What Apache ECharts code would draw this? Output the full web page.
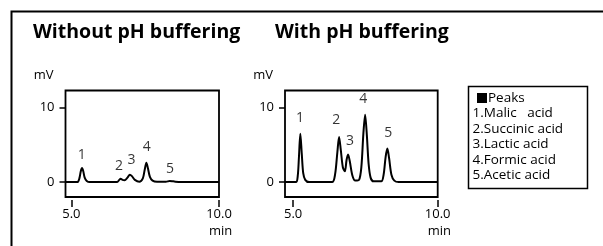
<!DOCTYPE html>
<html>
<head>
<meta charset="utf-8">
<script src="https://cdn.jsdelivr.net/npm/echarts@6/dist/echarts.min.js"></script>
<style>
  html, body { margin: 0; padding: 0; background: #fff; }
  #main { width: 603px; height: 246px; }
</style>
</head>
<body>
<div id="main"></div>
<script>
// chromatogram without pH buffering (time in min, signal in mV)
var timeA = [4.80, 5.20, 5.27, 5.32, 5.36, 5.40, 5.45, 5.52, 5.62, 6.55, 6.62, 6.67, 6.73, 6.80, 6.90, 6.98, 7.05, 7.15, 7.30, 7.42, 7.48, 7.54, 7.59, 7.66, 7.75, 7.90, 8.20, 8.33, 8.45, 8.70, 10.0]
var signalA = [0, 0, 0.5, 1.5, 1.9, 1.5, 0.6, 0.15, 0, 0, 0.3, 0.45, 0.3, 0.25, 0.6, 1.0, 0.8, 0.3, 0.05, 0.5, 1.6, 2.6, 1.9, 0.7, 0.2, 0.05, 0.05, 0.15, 0.1, 0, 0]
// chromatogram with pH buffering
var timeB = [4.72, 5.10, 5.16, 5.20, 5.25, 5.30, 5.35, 5.42, 5.55, 6.35, 6.45, 6.53, 6.59, 6.65, 6.72, 6.79, 6.85, 6.90, 6.96, 7.05, 7.15, 7.28, 7.36, 7.43, 7.49, 7.55, 7.61, 7.68, 7.78, 8.05, 8.13, 8.20, 8.26, 8.32, 8.40, 8.50, 8.65, 10.0]
var signalB = [0, 0, 0.8, 3.2, 6.5, 3.8, 1.2, 0.3, 0, 0, 1.0, 4.0, 6.05, 4.3, 2.0, 1.45, 3.0, 3.7, 2.8, 0.9, 0.2, 0.3, 2.0, 6.5, 9.05, 6.3, 2.5, 0.6, 0.1, 0.1, 1.0, 3.4, 4.5, 3.2, 1.0, 0.2, 0, 0]

// peak number labels
var peakIds = ['1', '2', '3', '4', '5']
var labelTimeA = [5.35, 6.61, 7.04, 7.55, 8.34]
var labelSignalA = [3.7, 2.2, 2.9, 4.7, 1.8]
var labelTimeB = [5.24, 6.49, 6.97, 7.43, 8.29]
var labelSignalB = [8.65, 8.4, 5.5, 11.2, 6.6]

var panelTitles = ['Without pH buffering', 'With pH buffering']
var xTicks = [5, 10]
var xTickText = ['5.0', '10.0\n min']
var yTicks = [0, 10]
var yTickText = ['0', '10']
var legendTitle = 'Peaks'
var peakNames = ['1.Malic   acid', '2.Succinic acid', '3.Lactic acid', '4.Formic acid', '5.Acetic acid']

var FONT = 'Open Sans'
var INK = '#000'

function pairs(xs, ys) {
  var out = []
  for (var i = 0; i < xs.length; i++) {
    out.push([xs[i], ys[i]])
  }
  return out
}

function labelData(xs, ys) {
  var out = []
  for (var i = 0; i < xs.length; i++) {
    out.push({ name: peakIds[i], value: [xs[i], ys[i]] })
  }
  return out
}

function xAxisFor(idx, min) {
  return {
    type: 'value', gridIndex: idx, min: min, max: 10, position: 'bottom', offset: 3,
    // onZero off, otherwise the ticks jump up to the baseline
    axisLine: { show: true, onZero: false, lineStyle: { color: 'rgba(0,0,0,0)', width: 0 } },
    splitLine: { show: false },
    axisTick: { show: true, inside: false, customValues: xTicks, length: 7, lineStyle: { color: INK, width: 1.5 } },
    axisLabel: {
      show: true, customValues: xTicks, margin: 6, color: INK, fontFamily: FONT, fontSize: 13, lineHeight: 17,
      formatter: function (v) { return xTickText[xTicks.indexOf(v)] }
    }
  }
}

function yAxisFor(idx) {
  return {
    type: 'value', gridIndex: idx, min: -2, max: 12.3,
    name: 'mV', nameLocation: 'end', nameGap: 9,
    nameTextStyle: { color: INK, fontFamily: FONT, fontSize: 13, align: 'right', padding: [0, 12, 0, 0] },
    axisLine: { show: true, onZero: false, lineStyle: { color: 'rgba(0,0,0,0)', width: 0 } },
    splitLine: { show: false },
    axisTick: { show: true, inside: false, customValues: yTicks, length: 6, lineStyle: { color: INK, width: 1.5 } },
    axisLabel: {
      show: true, customValues: yTicks, margin: 11, color: INK, fontFamily: FONT, fontSize: 13, padding: [0, 0, 6, 0],
      formatter: function (v) { return yTickText[yTicks.indexOf(v)] }
    }
  }
}

function traceSeries(idx, data) {
  return {
    type: 'line', xAxisIndex: idx, yAxisIndex: idx, data: data,
    smooth: 0.3, symbol: 'none', silent: true,
    lineStyle: { color: INK, width: 2 }
  }
}

function labelSeries(idx, data) {
  return {
    type: 'scatter', xAxisIndex: idx, yAxisIndex: idx, data: data,
    symbolSize: 0, silent: true,
    label: { show: true, position: 'inside', formatter: '{b}', color: INK, fontFamily: FONT, fontSize: 14 }
  }
}

// legend box drawn as graphic
var legendFont = '13.5px "' + FONT + '"'
var legendChildren = [
  { type: 'rect', shape: { x: 468.5, y: 86.5, width: 119, height: 102 }, style: { fill: '#fff', stroke: INK, lineWidth: 1.5 } },
  { type: 'rect', shape: { x: 477, y: 93, width: 10, height: 10 }, style: { fill: INK } },
  { type: 'text', x: 488, y: 98.5, style: { text: legendTitle, fill: INK, font: legendFont, textVerticalAlign: 'middle' } }
]
for (var i = 0; i < peakNames.length; i++) {
  legendChildren.push({
    type: 'text', x: 472.5, y: 113.5 + i * 15.5,
    style: { text: peakNames[i], fill: INK, font: legendFont, textVerticalAlign: 'middle' }
  })
}

var myChart = echarts.init(document.getElementById('main'), null, { renderer: 'canvas' })
myChart.setOption({
  animation: false,
  backgroundColor: '#fff',
  title: [
    { text: panelTitles[0], left: 33, top: 22, padding: 0, textStyle: { color: INK, fontFamily: FONT, fontWeight: 'bold', fontSize: 19.5 } },
    { text: panelTitles[1], left: 275, top: 22, padding: 0, textStyle: { color: INK, fontFamily: FONT, fontWeight: 'bold', fontSize: 19.5 } }
  ],
  grid: [
    { left: 65.5, top: 90.5, width: 153.5, height: 106.5, show: true, borderColor: INK, borderWidth: 1.8, backgroundColor: 'transparent' },
    { left: 285, top: 90.5, width: 152.7, height: 106.5, show: true, borderColor: INK, borderWidth: 1.8, backgroundColor: 'transparent' }
  ],
  xAxis: [xAxisFor(0, 4.80), xAxisFor(1, 4.72)],
  yAxis: [yAxisFor(0), yAxisFor(1)],
  series: [
    traceSeries(0, pairs(timeA, signalA)),
    traceSeries(1, pairs(timeB, signalB)),
    labelSeries(0, labelData(labelTimeA, labelSignalA)),
    labelSeries(1, labelData(labelTimeB, labelSignalB))
  ],
  graphic: [
    // outer frame, only top and left edges fall inside the picture
    { type: 'rect', shape: { x: 11.5, y: 11.5, width: 700, height: 400 }, style: { fill: 'none', stroke: INK, lineWidth: 2 }, silent: true },
    { type: 'group', children: legendChildren, silent: true }
  ]
})
</script>
</body>
</html>
